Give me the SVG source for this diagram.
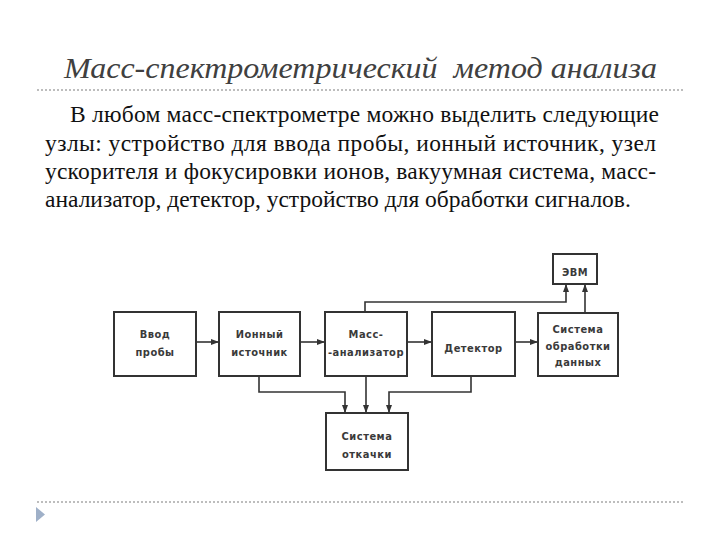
<svg xmlns="http://www.w3.org/2000/svg" width="720" height="540" viewBox="0 0 720 540">
<defs>
<marker id="ah" markerWidth="8" markerHeight="6" refX="7" refY="3" orient="auto" markerUnits="userSpaceOnUse">
<path d="M0,0 L8,3 L0,6 Z" fill="#333"/>
</marker>
<style>
.title{font-family:"Liberation Serif","DejaVu Serif",serif;font-style:italic;font-size:29px;fill:#404040;white-space:pre}
.body{font-family:"Liberation Serif","DejaVu Serif",serif;font-size:23.5px;fill:#111}
.sep{stroke:#bdbdbd;stroke-width:2;stroke-dasharray:2 2;fill:none}
.box{fill:#fff;stroke:#333;stroke-width:2}
.lbl{font-family:"DejaVu Sans Condensed","DejaVu Sans",sans-serif;font-size:11px;fill:#3a3a3a;text-anchor:middle;letter-spacing:0.5px;font-weight:bold}
.con{fill:none;stroke:#333;stroke-width:1.6}
</style>
</defs>
<rect width="720" height="540" fill="#fff"/>
<text class="title" x="64" y="78" textLength="593" lengthAdjust="spacingAndGlyphs" xml:space="preserve">Масс-спектрометрический  метод анализа</text>
<line class="sep" x1="37" y1="90" x2="684" y2="90"/>
<text class="body" x="70" y="122" textLength="589" lengthAdjust="spacing">В любом масс-спектрометре можно выделить следующие</text>
<text class="body" x="45" y="151" textLength="611" lengthAdjust="spacing">узлы: устройство для ввода пробы, ионный источник, узел</text>
<text class="body" x="45" y="179" textLength="611" lengthAdjust="spacing">ускорителя и фокусировки ионов, вакуумная система, масс-</text>
<text class="body" x="45" y="207">анализатор, детектор, устройство для обработки сигналов.</text>

<g id="connectors">
<path class="con" d="M196,342 H218" marker-end="url(#ah)"/>
<path class="con" d="M300,342 H324" marker-end="url(#ah)"/>
<path class="con" d="M407,342 H431" marker-end="url(#ah)"/>
<path class="con" d="M515,342 H537" marker-end="url(#ah)"/>
<path class="con" d="M585,313 V285" marker-end="url(#ah)"/>
<path class="con" d="M365,312 V302 H566 V285" marker-end="url(#ah)"/>
<path class="con" d="M259,376 V392 H345 V412" marker-end="url(#ah)"/>
<path class="con" d="M366,376 V412" marker-end="url(#ah)"/>
<path class="con" d="M471,376 V392 H389 V412" marker-end="url(#ah)"/>
</g>

<g id="vvod">
<rect class="box" x="114" y="312" width="82" height="64"/>
<text class="lbl" x="155" y="338">Ввод</text>
<text class="lbl" x="155" y="356">пробы</text>
</g>
<g id="ion">
<rect class="box" x="219" y="312" width="81" height="64"/>
<text class="lbl" x="259.5" y="338">Ионный</text>
<text class="lbl" x="259.5" y="356">источник</text>
</g>
<g id="mass">
<rect class="box" x="325" y="312" width="82" height="64"/>
<text class="lbl" x="366" y="338">Масс-</text>
<text class="lbl" x="366" y="356">-анализатор</text>
</g>
<g id="detector">
<rect class="box" x="432" y="312" width="83" height="64"/>
<text class="lbl" x="473.5" y="352">Детектор</text>
</g>
<g id="processing">
<rect class="box" x="538" y="313" width="80" height="63"/>
<text class="lbl" x="578" y="333">Система</text>
<text class="lbl" x="578" y="350">обработки</text>
<text class="lbl" x="578" y="366">данных</text>
</g>
<g id="evm">
<rect class="box" x="553" y="254" width="44" height="30"/>
<text class="lbl" x="575" y="276">ЭВМ</text>
</g>
<g id="pump">
<rect class="box" x="326" y="413" width="82" height="57"/>
<text class="lbl" x="367" y="440">Система</text>
<text class="lbl" x="367" y="458">откачки</text>
</g>

<line class="sep" x1="37" y1="502" x2="684" y2="502"/>
<polygon points="36,507 45,514.5 36,522" fill="#9fb0c8"/>
</svg>
